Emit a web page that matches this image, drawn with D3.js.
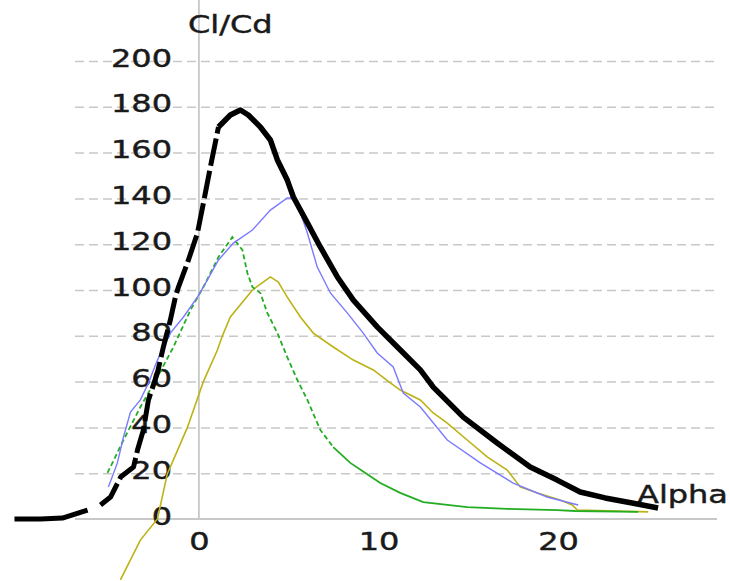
<!DOCTYPE html>
<html>
<head>
<meta charset="utf-8">
<script src="https://cdn.jsdelivr.net/npm/d3@7"></script>
<style>
  body { margin: 0; background: #fff; }
  text { font-family: "DejaVu Sans", Verdana, sans-serif; fill: #1a1a1a; stroke: #1a1a1a; stroke-width: 0.45px; }
</style>
</head>
<body>
<div class="chart"></div>
<script>
// Chart size
var svgWidth = 730;
var svgHeight = 581;

// Polars: angle of attack (deg) and Cl/Cd
var blackAlpha = [-10.27, -8.82, -7.6, -6.2, -5.48, -4.92, -4.36, -3.64, -3.42, -3.09, -2.81, -2.31, -1.98, -1.59, -1.31, -1.14, -0.64, -0.08, 0.25, 0.64, 1.09, 1.75, 2.31, 2.75, 3.42, 3.98, 4.37, 4.92, 5.26, 6.04, 6.76, 7.71, 8.6, 9.94, 11.05, 12.33, 13.05, 14.72, 16.61, 18.45, 19.95, 21.23, 22.62, 24.12, 25.57];
var blackRatio = [0, 0, 0.4, 3.9, 6.1, 9.6, 18.3, 22.7, 30.1, 38.9, 52, 63.8, 75.1, 86.9, 96.9, 101.3, 111.8, 124.9, 138, 153.7, 171.2, 176.4, 178.6, 176.4, 171.2, 165.5, 156.8, 148, 140.6, 129.3, 118.8, 105.7, 95.6, 83.8, 75.1, 65.1, 57.6, 44.5, 33.2, 22.7, 17, 11.8, 9.2, 7, 4.8];

var blueAlpha = [-5.04, -4.54, -4.2, -3.81, -3.26, -2.81, -2.31, -1.59, -0.86, -0.08, 0.47, 1.09, 1.92, 2.98, 3.98, 4.92, 5.37, 6.04, 6.59, 7.32, 8.26, 9.15, 9.93, 10.82, 11.38, 12.33, 13.83, 15.67, 17.5, 19.39, 21.12];
var blueRatio = [14, 24.5, 35.8, 46.7, 52, 59.4, 69.4, 81.2, 88.2, 96.9, 104.4, 113.1, 120.5, 126.2, 134.9, 140.2, 140.2, 124.9, 110, 98.7, 90, 81.2, 72.5, 66.4, 55, 48.9, 34.5, 24.5, 15.7, 9.6, 6.1];

var greenAlpha = [-5.09, -4.2, -3.26, -2.31, -1.42, -0.47, 0.25, 1.09, 1.86, 2.42, 2.7, 2.98, 3.42, 3.81, 4.37, 4.92, 5.48, 6.04, 6.76, 7.48, 8.43, 9.27, 10.1, 11.21, 12.49, 14.94, 17.17, 19.95, 20.95, 24.46];
var greenRatio = [20.1, 34.5, 48.9, 62, 75.1, 91.3, 101.3, 114.4, 123.1, 117.5, 107.4, 101.3, 98.7, 90, 81.2, 70.7, 60.7, 52, 38.9, 31.4, 24.5, 20.1, 15.7, 11.4, 7.4, 5.2, 4.4, 3.9, 3.5, 3.1];

var yellowAlpha = [-4.37, -3.26, -2.31, -1.76, -0.64, 0.25, 1.03, 1.31, 1.75, 2.98, 3.98, 4.42, 4.92, 5.65, 6.37, 7.48, 8.6, 9.71, 10.66, 11.21, 12.33, 13.05, 13.83, 14.94, 16.05, 17.17, 17.89, 18.84, 20.12, 20.79, 21.07, 25.02];
var yellowRatio = [-26.6, -9.2, 0, 19.7, 40, 60, 73.8, 80, 88.2, 100, 105.7, 103.5, 96.9, 88.2, 81.2, 75.1, 69.4, 65.1, 59.4, 56.3, 52, 46.3, 41.9, 34.5, 27.1, 21.4, 14, 11.4, 8.3, 6.1, 3.9, 3.1];

var xTicks = [0, 10, 20];
var yTicks = [0, 20, 40, 60, 80, 100, 120, 140, 160, 180, 200];

// Text in the source is drawn wide
var stretch = "scale(1.28,1)";

var svg = d3.select(".chart")
    .append("svg")
    .attr("width", svgWidth)
    .attr("height", svgHeight);

var xScale = d3.scaleLinear().domain([-6.9, 28.85]).range([75, 717]);
var yScale = d3.scaleLinear().domain([0, 200]).range([519, 61]);

var left = xScale.range()[0], right = xScale.range()[1];
var bottom = yScale.range()[0], top = yScale.range()[1];

// Dashed grid
var yGrid = svg.append("g")
    .attr("transform", "translate(" + left + ",0)")
    .call(d3.axisLeft(yScale)
        .tickValues(yTicks.filter(function(d) { return d > 0; }))
        .tickSize(-(right - left))
        .tickFormat(""));
yGrid.select(".domain").remove();
yGrid.selectAll("line")
    .attr("stroke", "#c8c8c8")
    .attr("stroke-width", 1.5)
    .attr("stroke-dasharray", "9,5");

var xGrid = svg.append("g")
    .attr("transform", "translate(0," + bottom + ")")
    .call(d3.axisBottom(xScale)
        .tickValues(xTicks.filter(function(d) { return d > 0; }))
        .tickSize(-(bottom - top))
        .tickFormat(""));
xGrid.select(".domain").remove();
xGrid.selectAll("line")
    .attr("stroke", "#c8c8c8")
    .attr("stroke-width", 1.5)
    .attr("stroke-dasharray", "7,4");

// Solid zero lines
svg.append("line")
    .attr("x1", left).attr("x2", right)
    .attr("y1", yScale(0)).attr("y2", yScale(0))
    .attr("stroke", "#c8c8c8")
    .attr("stroke-width", 1.8);
svg.append("line")
    .attr("x1", xScale(0)).attr("x2", xScale(0))
    .attr("y1", top).attr("y2", bottom + 1)
    .attr("stroke", "#c8c8c8")
    .attr("stroke-width", 1.8);

// Tick labels
var yAxis = svg.append("g")
    .attr("transform", "translate(172,0)")
    .call(d3.axisLeft(yScale).tickValues(yTicks).tickSize(0).tickPadding(0));
yAxis.select(".domain").remove();
yAxis.selectAll("text")
    .attr("x", 0)
    .attr("dy", "0.2em")
    .attr("transform", stretch)
    .style("font-size", "25px")
    .style("font-family", null)
    .attr("fill", "#1a1a1a");

var xAxis = svg.append("g")
    .attr("transform", "translate(0,550)")
    .call(d3.axisBottom(xScale).tickValues(xTicks).tickSize(0).tickPadding(0));
xAxis.select(".domain").remove();
xAxis.selectAll("text")
    .attr("y", 0)
    .attr("dy", 0)
    .attr("transform", stretch)
    .style("font-size", "25px")
    .style("font-family", null)
    .attr("fill", "#1a1a1a");

// Axis titles
svg.append("text")
    .attr("transform", "translate(188,33) " + stretch)
    .style("font-size", "25px")
    .text("Cl/Cd");
svg.append("text")
    .attr("transform", "translate(637,503) " + stretch)
    .style("font-size", "25px")
    .text("Alpha");

// Curves
function series(alpha, ratio) {
    return alpha.map(function(a, i) { return {a: a, r: ratio[i]}; });
}
var line = d3.line()
    .x(function(d) { return xScale(d.a); })
    .y(function(d) { return yScale(d.r); });

var yellow = series(yellowAlpha, yellowRatio);
var green = series(greenAlpha, greenRatio);
var blue = series(blueAlpha, blueRatio);
var black = series(blackAlpha, blackRatio);

svg.append("path")
    .datum(yellow)
    .attr("d", line)
    .attr("fill", "none")
    .attr("stroke", "#bcb214")
    .attr("stroke-width", 1.6);

// green is dashed up to the stall region, solid on the tail
svg.append("path")
    .datum(green.filter(function(d) { return d.a <= 7.48; }))
    .attr("d", line)
    .attr("fill", "none")
    .attr("stroke", "#22ad22")
    .attr("stroke-width", 1.8)
    .attr("stroke-dasharray", "5,3");
svg.append("path")
    .datum(green.filter(function(d) { return d.a >= 7.48; }))
    .attr("d", line)
    .attr("fill", "none")
    .attr("stroke", "#22ad22")
    .attr("stroke-width", 1.8);

svg.append("path")
    .datum(blue)
    .attr("d", line)
    .attr("fill", "none")
    .attr("stroke", "#7a7aff")
    .attr("stroke-width", 1.4);

// black: broken strokes on the steep climb
svg.append("path")
    .datum(black.filter(function(d) { return d.a <= -6.2; }))
    .attr("d", line)
    .attr("fill", "none")
    .attr("stroke", "#000")
    .attr("stroke-width", 5)
    .attr("stroke-linejoin", "round");
svg.append("path")
    .datum(black.filter(function(d) { return d.a >= -5.9 && d.a <= 1.09; }))
    .attr("d", line)
    .attr("fill", "none")
    .attr("stroke", "#000")
    .attr("stroke-width", 5)
    .attr("stroke-linejoin", "round")
    .attr("stroke-dasharray", "28,5");
svg.append("path")
    .datum(black.filter(function(d) { return d.a >= 1.09; }))
    .attr("d", line)
    .attr("fill", "none")
    .attr("stroke", "#000")
    .attr("stroke-width", 5.5)
    .attr("stroke-linejoin", "round");
</script>
</body>
</html>
